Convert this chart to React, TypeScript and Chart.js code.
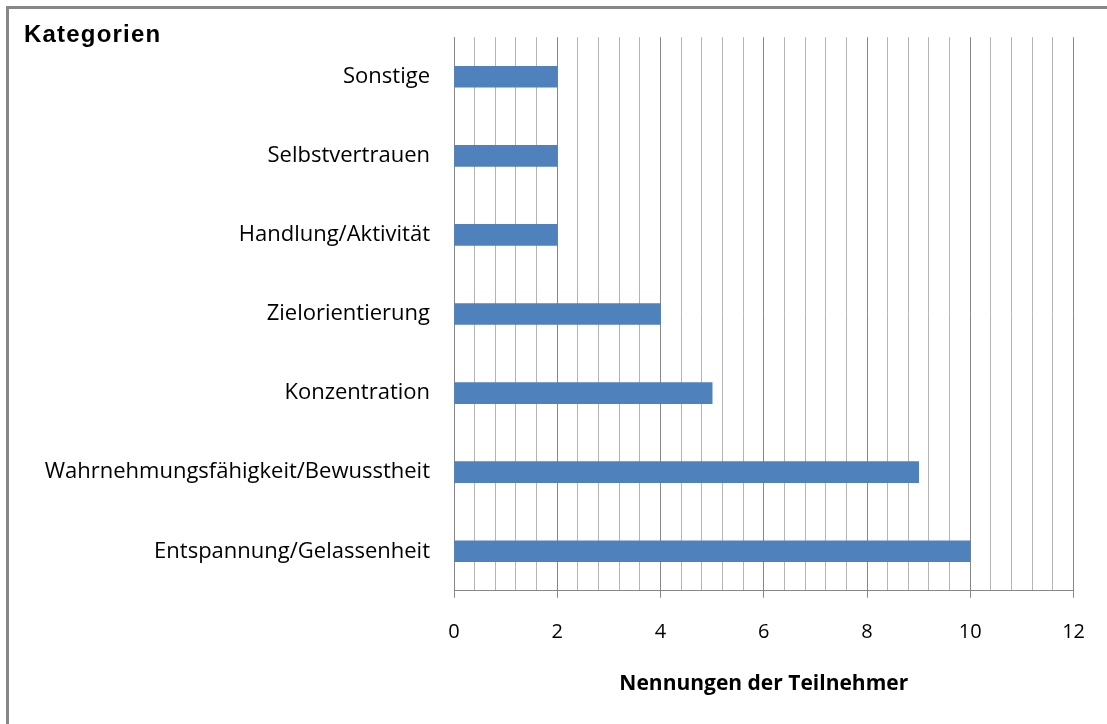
import React, { useEffect, useRef } from "react";
import { Chart, registerables } from "chart.js";

Chart.register(...registerables);

const categories = [
  "Sonstige",
  "Selbstvertrauen",
  "Handlung/Aktivität",
  "Zielorientierung",
  "Konzentration",
  "Wahrnehmungsfähigkeit/Bewusstheit",
  "Entspannung/Gelassenheit",
];
const counts = [2, 2, 2, 4, 5, 9, 10];
const xMin = 0;
const xMax = 12;
const minorStep = 0.4;
const majorStep = 2;
const yAxisTitle = "Kategorien";
const xAxisTitle = "Nennungen der Teilnehmer";

const FONT = "'Open Sans', Lato, sans-serif";

const isMajor = (v: number) => Math.abs(v / majorStep - Math.round(v / majorStep)) < 1e-6;

export default function App() {
  const ref = useRef<HTMLCanvasElement | null>(null);
  useEffect(() => {
    if (!ref.current) return;
    const cornerTitle = {
      id: "cornerTitle",
      afterDraw(chart: any) {
        const ctx = chart.ctx;
        ctx.save();
        ctx.font = "bold 24px 'Liberation Sans', Arial, sans-serif";
        try {
          (ctx as any).letterSpacing = "1.2px";
        } catch (e) {}
        ctx.fillStyle = "#000";
        ctx.textBaseline = "middle";
        ctx.textAlign = "left";
        ctx.fillText(yAxisTitle, 24, 35);
        ctx.restore();
      },
    };
    const chart = new Chart(ref.current, {
      type: "bar",
      data: {
        labels: categories,
        datasets: [
          {
            data: counts,
            backgroundColor: "#4F81BD",
            borderWidth: 0,
            barThickness: 21,
          },
        ],
      },
      plugins: [cornerTitle],
      options: {
        indexAxis: "y",
        animation: false,
        responsive: false,
        devicePixelRatio: 1,
        layout: { padding: { left: 0, top: 35, right: 32, bottom: 27 } },
        plugins: { legend: { display: false }, tooltip: { enabled: false } },
        scales: {
          x: {
            type: "linear",
            min: xMin,
            max: xMax,
            ticks: {
              stepSize: minorStep,
              autoSkip: false,
              maxRotation: 0,
              padding: 22,
              color: "#000",
              font: { family: FONT, size: 20 },
              callback: (v: any) => (isMajor(Number(v)) ? String(Math.round(Number(v))) : ""),
            },
            grid: {
              color: (c: any) => (isMajor(c.tick.value) ? "#878787" : "#b4b4b4"),
              tickColor: (c: any) => (isMajor(c.tick.value) ? "#878787" : "rgba(0,0,0,0)"),
              tickLength: 7,
              lineWidth: 1,
            },
            border: { color: "#878787", width: 1 },
            title: {
              display: true,
              text: xAxisTitle,
              color: "#000",
              font: { family: FONT, size: 21, weight: "bold" },
              padding: { top: 6, bottom: 0 },
            },
          },
          y: {
            type: "category",
            afterFit: (s: any) => {
              s.width = 454;
            },
            ticks: {
              padding: 24,
              color: "#000",
              font: { family: FONT, size: 22 },
            },
            grid: { display: false, drawTicks: false },
            border: { color: "#878787", width: 1 },
          },
        },
      },
    } as any);
    return () => chart.destroy();
  }, []);
  return (
    <div style={{ position: "fixed", left: 0, top: 0, width: 1107, height: 724, background: "#fff" }}>
      <canvas ref={ref} width={1107} height={724} style={{ position: "absolute", left: 0, top: 0 }} />
      <div
        style={{
          position: "absolute",
          left: 6,
          top: 6,
          width: 1107,
          height: 724,
          borderLeft: "3px solid #878787",
          borderTop: "3px solid #878787",
          pointerEvents: "none",
        }}
      />
    </div>
  );
}
